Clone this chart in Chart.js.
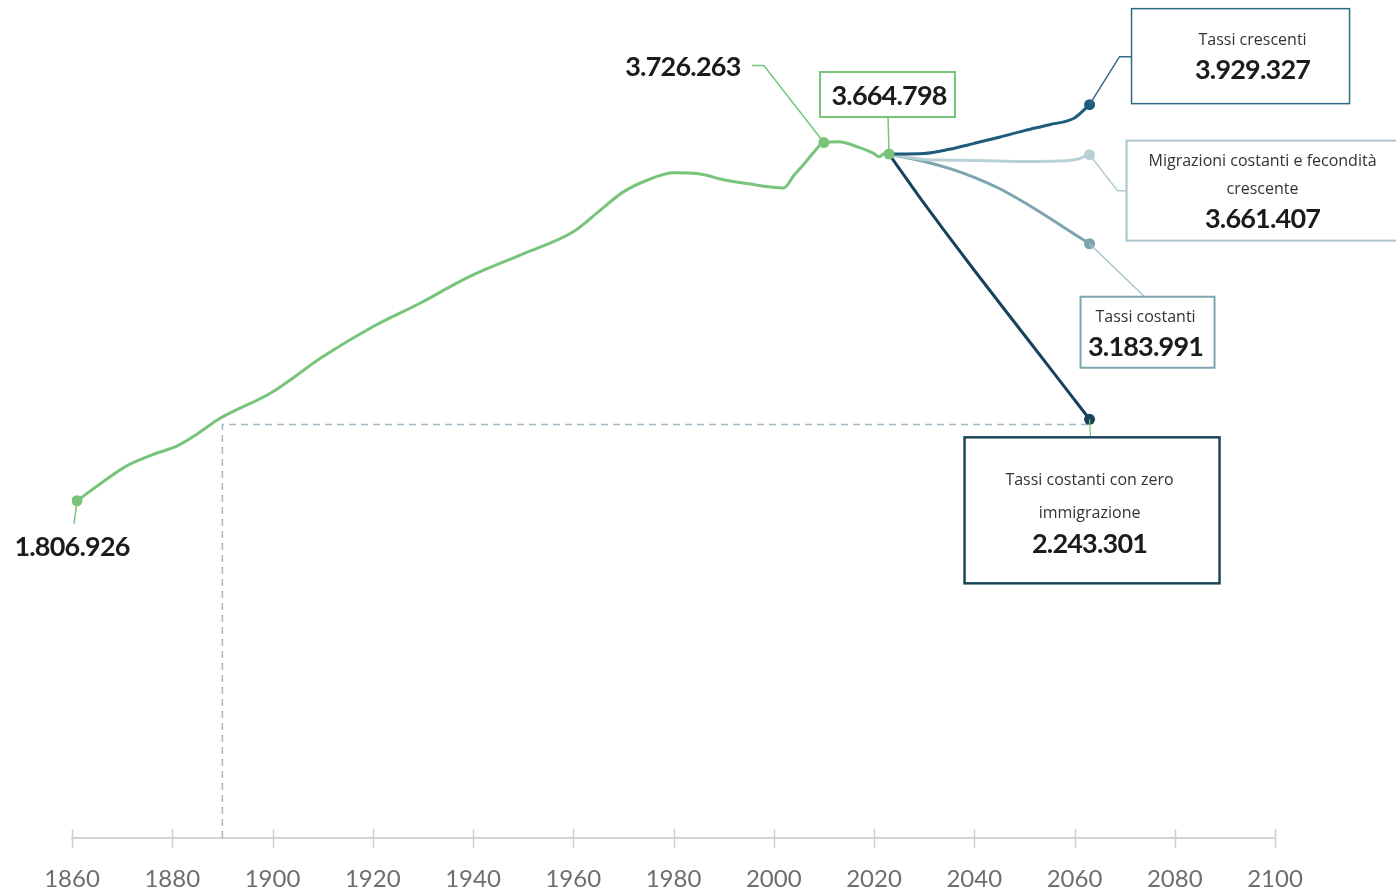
<!DOCTYPE html>
<html>
<head>
<meta charset="utf-8">
<script src="https://cdn.jsdelivr.net/npm/chart.js@4.4.0/dist/chart.umd.min.js"></script>
<style>
    html, body { margin: 0; padding: 0; background: #fff; }
</style>
</head>
<body>
<canvas id="popChart" width="1396" height="894"></canvas>
<script>
// historic series (years / residents)
const histYears = [1861, 1866, 1871, 1876, 1881, 1885, 1889, 1900, 1910, 1920, 1930, 1936, 1940, 1950, 1960, 1965, 1970, 1975, 1980, 1985, 1990, 1995, 2002, 2004, 2006, 2008, 2010, 2013, 2017, 2020, 2021, 2022, 2023];
const histValues = [1806926, 1905000, 1995000, 2053000, 2101000, 2165000, 2240000, 2390000, 2578000, 2739000, 2873000, 2962000, 3017000, 3130000, 3248000, 3355000, 3462000, 3527000, 3564000, 3559000, 3527000, 3505000, 3483000, 3550000, 3610000, 3675000, 3726263, 3730000, 3700000, 3667000, 3650000, 3666000, 3664798];
const markedYears = [1861, 2010, 2023];

// projection scenarios
const projYears = [2023, 2030, 2035, 2040, 2045, 2050, 2055, 2060, 2063];
const crescenti = [3664798, 3668000, 3690000, 3722000, 3755000, 3790000, 3822000, 3858000, 3929327];
const migrazioni = [3664798, 3636000, 3632000, 3630000, 3627000, 3625000, 3626000, 3634000, 3661407];
const costanti = [3664798, 3625000, 3588000, 3540000, 3480000, 3405000, 3322000, 3235000, 3183991];
const zeroImm = [3664798, 3400000, 3220000, 3042000, 2868000, 2695000, 2522000, 2348000, 2243301];

// dashed reference (1890 level reached again in 2063)
const refYears = [1890, 1890, 2063];
const refValues = [0, 2215000, 2215000];

const tickYears = [1860, 1880, 1900, 1920, 1940, 1960, 1980, 2000, 2020, 2040, 2060, 2080, 2100];

const GREEN = '#77c47a';
const FONT = 'Lato, "Open Sans", sans-serif';
const SMALL_FONT = '"Open Sans", Lato, sans-serif';

function toPoints(xs, ys) {
    return xs.map((x, i) => ({ x: x, y: ys[i] }));
}

function endDot(n, r) {
    return Array.from({ length: n }, (_, i) => (i === n - 1 ? r : 0));
}

function projDataset(values, color) {
    return {
        data: toPoints(projYears, values),
        borderColor: color,
        backgroundColor: color,
        borderWidth: 3,
        cubicInterpolationMode: 'monotone',
        pointRadius: endDot(projYears.length, 5.5),
        pointBorderWidth: 0,
        pointBackgroundColor: color
    };
}

// callouts, anchored to a data point; offsets in px from that point
const notes = [
    { year: 1861, value: 1806926, line: GREEN, lw: 1.5, path: [[-3, 23]],
      texts: [{ t: '1.806.926', big: true, dx: -5, dy: 47 }] },
    { year: 2010, value: 3726263, line: GREEN, lw: 1.5, path: [[-60, -77], [-72, -77]],
      texts: [{ t: '3.726.263', big: true, dx: -141, dy: -75 }] },
    { year: 2023, value: 3664798, line: GREEN, lw: 1.5, path: [[-1, -37]],
      box: { x: -69, y: -82, w: 135, h: 45, color: GREEN, lw: 2 },
      texts: [{ t: '3.664.798', big: true, dx: 0, dy: -58 }] },
    { year: 2063, value: 3929327, line: '#2f6a88', lw: 1.5, path: [[30, -48], [42, -48]],
      box: { x: 42, y: -96, w: 218, h: 95, color: '#2f6a88', lw: 1.5 },
      texts: [{ t: 'Tassi crescenti', dx: 163, dy: -64 }, { t: '3.929.327', big: true, dx: 163, dy: -34 }] },
    { year: 2063, value: 3661407, line: '#b3cbd1', lw: 1.5, path: [[28, 36], [37, 36]],
      box: { x: 37, y: -14, w: 290, h: 100, color: '#a9c4cb', lw: 2 },
      texts: [{ t: 'Migrazioni costanti e fecondità', dx: 173, dy: 7 }, { t: 'crescente', dx: 173, dy: 35 }, { t: '3.661.407', big: true, dx: 173, dy: 65 }] },
    { year: 2063, value: 3183991, line: '#a9c3ca', lw: 1.5, path: [[55, 53]],
      box: { x: -9, y: 53, w: 134, h: 71, color: '#7ea6b0', lw: 2 },
      texts: [{ t: 'Tassi costanti', dx: 56, dy: 74 }, { t: '3.183.991', big: true, dx: 56, dy: 104 }] },
    { year: 2063, value: 2243301, line: GREEN, lw: 1.2, path: [[1, 18]],
      box: { x: -125, y: 18, w: 255, h: 146, color: '#1d4659', lw: 2.5 },
      texts: [{ t: 'Tassi costanti con zero', dx: 0, dy: 61 }, { t: 'immigrazione', dx: 0, dy: 94 }, { t: '2.243.301', big: true, dx: 0, dy: 125 }] }
];

const calloutPlugin = {
    id: 'callouts',
    afterDraw(chart) {
        const ctx = chart.ctx;
        const xs = chart.scales.x, ys = chart.scales.y;

        // tick marks crossing the axis line
        ctx.save();
        ctx.strokeStyle = '#cfcfcf';
        ctx.lineWidth = 1.5;
        const b = chart.chartArea.bottom;
        tickYears.forEach(yr => {
            const px = Math.round(xs.getPixelForValue(yr)) + 0.5;
            ctx.beginPath();
            ctx.moveTo(px, b - 9);
            ctx.lineTo(px, b + 10);
            ctx.stroke();
        });
        ctx.restore();

        notes.forEach(n => {
            const px = xs.getPixelForValue(n.year);
            const py = ys.getPixelForValue(n.value);
            ctx.save();
            ctx.strokeStyle = n.line;
            ctx.lineWidth = n.lw;
            ctx.beginPath();
            ctx.moveTo(px, py);
            n.path.forEach(p => ctx.lineTo(px + p[0], py + p[1]));
            ctx.stroke();
            if (n.box) {
                ctx.fillStyle = '#fff';
                ctx.fillRect(px + n.box.x, py + n.box.y, n.box.w, n.box.h);
                ctx.strokeStyle = n.box.color;
                ctx.lineWidth = n.box.lw;
                ctx.strokeRect(px + n.box.x, py + n.box.y, n.box.w, n.box.h);
            }
            ctx.textAlign = 'center';
            ctx.textBaseline = 'middle';
            n.texts.forEach(t => {
                if (t.big) {
                    ctx.font = 'bold 27px ' + FONT;
                    ctx.fillStyle = '#1b1b1b';
                    ctx.letterSpacing = '-0.8px';
                } else {
                    ctx.font = '16px ' + SMALL_FONT;
                    ctx.fillStyle = '#333';
                    ctx.letterSpacing = '0px';
                }
                ctx.fillText(t.t, px + t.dx, py + t.dy);
            });
            ctx.restore();
        });
    }
};

const ctx = document.getElementById('popChart').getContext('2d');
const popChart = new Chart(ctx, {
    type: 'line',
    data: {
        datasets: [
            {
                data: toPoints(histYears, histValues),
                borderColor: GREEN,
                backgroundColor: GREEN,
                borderWidth: 3,
                cubicInterpolationMode: 'monotone',
                pointRadius: histYears.map(y => (markedYears.includes(y) ? 5.5 : 0)),
                pointBorderWidth: 0,
                pointBackgroundColor: GREEN
            },
            projDataset(crescenti, '#1f5c7b'),
            projDataset(migrazioni, '#b9d0d6'),
            projDataset(costanti, '#7ca5af'),
            projDataset(zeroImm, '#17435a'),
            {
                data: toPoints(refYears, refValues),
                borderColor: '#9fb8c2',
                borderWidth: 1.5,
                borderDash: [7, 5],
                pointRadius: 0,
                tension: 0
            }
        ]
    },
    options: {
        responsive: false,
        animation: false,
        layout: { autoPadding: false, padding: { left: 72, right: 121, top: 0, bottom: 0 } },
        plugins: { legend: { display: false }, tooltip: { enabled: false } },
        scales: {
            x: {
                type: 'linear',
                min: 1860,
                max: 2100,
                afterFit: (scale) => { scale.height = 56; },
                afterBuildTicks: (scale) => { scale.ticks = tickYears.map(v => ({ value: v })); },
                grid: { display: false, drawTicks: false },
                border: { display: true, color: '#d3d3d3', width: 2 },
                ticks: {
                    color: '#6e6e6e',
                    padding: 27,
                    font: { family: FONT, size: 24 },
                    maxRotation: 0,
                    autoSkip: false,
                    callback: (v) => String(v)
                }
            },
            y: {
                display: false,
                min: 0,
                max: 4490000
            }
        }
    },
    plugins: [calloutPlugin]
});
</script>
</body>
</html>
